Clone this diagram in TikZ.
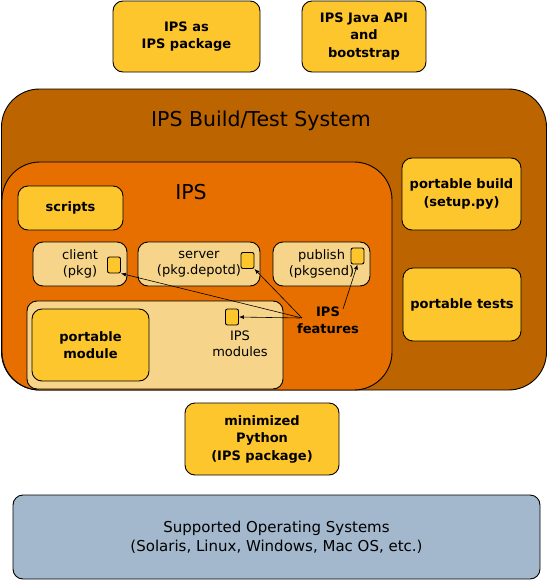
\documentclass[tikz,border=0pt]{standalone}
\usepackage{fontspec}
\setmainfont{DejaVu Sans}
\usetikzlibrary{arrows.meta}
\definecolor{ylw}{HTML}{FDC62C}
\definecolor{brn}{HTML}{BC6400}
\definecolor{org}{HTML}{E66F00}
\definecolor{lgt}{HTML}{F6D58A}
\definecolor{gbl}{HTML}{A3B8CC}
\begin{document}
\begin{tikzpicture}[x=1pt,y=-1pt,
 box/.style={draw=black,line width=0.9pt,rounded corners=10pt,inner sep=0pt,align=center},
 ybox/.style={box,fill=ylw,font=\fontsize{13}{17.5}\selectfont\bfseries},
 lbox/.style={box,fill=lgt,font=\fontsize{13}{16}\selectfont},
 sq/.style={draw=black,line width=0.9pt,fill=ylw,rounded corners=2pt,minimum width=13pt,minimum height=16pt,inner sep=0pt},
 txt/.style={font=\fontsize{13}{16}\selectfont,align=center,inner sep=0pt},
 btxt/.style={font=\fontsize{13}{17}\selectfont\bfseries,align=center,inner sep=0pt},
 ttl/.style={font=\fontsize{20.5}{24}\selectfont,inner sep=0pt},
 ar/.style={line width=0.6pt,-{Latex[length=5pt,width=4pt]}}
]
\useasboundingbox (0,0) rectangle (548,581);
\node[ybox,minimum width=147pt,minimum height=71pt] (pkg) at (186.5,36.5) {IPS as\\IPS package};
\node[ybox,minimum width=124pt,minimum height=71pt] (java) at (364,36.5) {IPS Java API\\and\\bootstrap};
\node[box,fill=brn,rounded corners=38pt,minimum width=545pt,minimum height=301pt] (bts) at (274,239.5) {};
\node[ttl] (btst) at (261,121) {IPS Build/Test System};
\node[box,fill=org,rounded corners=38pt,minimum width=390pt,minimum height=228pt] (ips) at (197,276) {};
\node[ttl] (ipst) at (191,192) {IPS};
\node[ybox,minimum width=105pt,minimum height=44pt] (scr) at (70.5,208) {scripts};
\node[lbox,minimum width=94pt,minimum height=44pt] (cli) at (80,264) {client\\(pkg)};
\node[lbox,minimum width=122pt,minimum height=44pt] (srv) at (199,264) {server\\(pkg.depotd)};
\node[lbox,minimum width=97pt,minimum height=44pt] (pub) at (321.5,264) {publish\\(pkgsend)};
\node[sq] (csq) at (114,265) {};
\node[sq] (ssq) at (247.5,260.5) {};
\node[sq] (psq) at (357.5,256) {};
\node[lbox,minimum width=256pt,minimum height=88pt] (modc) at (155,345) {};
\node[ybox,minimum width=117pt,minimum height=72pt] (pmod) at (90.5,345) {portable\\module};
\node[sq] (msq) at (232,317) {};
\node[txt] (modt) at (240,344) {IPS\\modules};
\node[btxt] (feat) at (328,320) {IPS\\features};
\node[ybox,minimum width=119pt,minimum height=72pt] (pbld) at (461.5,194) {portable build\\(setup.py)};
\node[ybox,minimum width=118pt,minimum height=73pt] (ptst) at (462,304.5) {portable tests};
\node[ybox,minimum width=154pt,minimum height=72pt] (py) at (262,439) {minimized\\Python\\(IPS package)};
\node[box,fill=gbl,minimum width=527pt,minimum height=84pt,font=\fontsize{15}{19}\selectfont] (os) at (276.5,537) {Supported Operating Systems\\(Solaris, Linux, Windows, Mac OS, etc.)};
\coordinate (fs) at (302,318);
\coordinate (fm) at (300,318);
\coordinate (fp) at (343,309);
\draw[ar] (fs) -- (csq.south east);
\draw[ar] (fs) -- (ssq.south east);
\draw[ar] (fm) -- (msq.east);
\draw[ar] (fp) -- (psq.south);
\end{tikzpicture}
\end{document}
